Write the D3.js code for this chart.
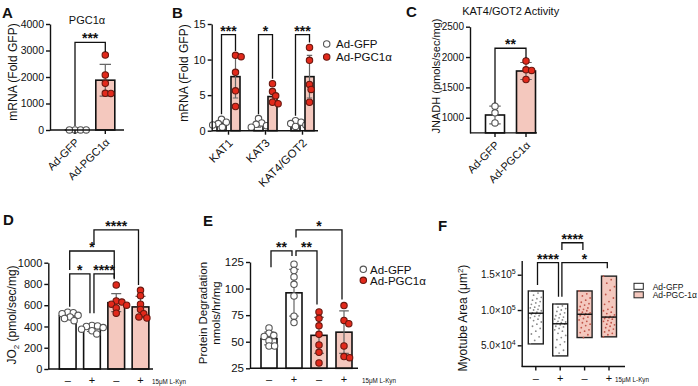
<!DOCTYPE html>
<html>
<head>
<meta charset="utf-8">
<script src="https://cdn.jsdelivr.net/npm/d3@7"></script>
<style>
body { margin: 0; background: #fff; }
svg text { font-family: "Liberation Sans", Arial, sans-serif; fill: #111; }
.axis path, .axis line { stroke: #111; stroke-width: 1.4px; }
</style>
</head>
<body>
<div id="chart"></div>
<script>
// A - PGC1a mRNA
const aGroups = ["Ad-GFP", "Ad-PGC1α"];
const aMean = [1, 1880];
const aSd = [0.4, 600];
const aDots = [[1, 1, 1, 1], [2830, 2075, 1760, 1385, 1380]];
const aTicks = [0, 1000, 2000, 3000, 4000];
const aSig = [[0, 1, 3310, 150, 2940, "***"]];

// B - KAT mRNA
const bGenes = ["KAT1", "KAT3", "KAT4/GOT2"];
const bSeries = ["Ad-GFP", "Ad-PGC1α"];
const bMean = [[1.0, 0.9, 0.9], [7.6, 4.8, 7.6]];
const bSd = [[0.35, 0.4, 0.3], [3.0, 1.1, 3.0]];
const bDots = [
  [[0.5, 0.8, 1.0, 1.2, 1.6], [0.5, 0.7, 0.9, 1.1, 1.7], [0.6, 0.8, 1.0, 1.2, 1.4]],
  [[10.6, 10.4, 8.2, 5.6, 3.4], [6.6, 5.5, 4.9, 4.0, 3.8], [11.7, 9.9, 6.5, 5.8, 4.0]]
];
const bTicks = [0, 5, 10, 15];
const bSig = [[13.5, 2.3, 11.2, "***"], [13.5, 2.3, 7.3, "*"], [13.5, 2.1, 12.4, "***"]];

// C - KAT4/GOT2 activity
const cGroups = ["Ad-GFP", "Ad-PGC1α"];
const cMean = [1045, 1770];
const cSd = [145, 140];
const cDots = [[1190, 1080, 915], [1935, 1790, 1780, 1630]];
const cTicks = [1000, 1500, 2000, 2500];
const cSig = [[0, 1, 2145, 1240, 1985, "**"]];

// D / E / F share the L-Kyn groups
const kynLabels = ["–", "+", "–", "+"];
const kynRed = [false, false, true, true];

// D - JO2
const dMean = [501, 381, 624, 584];
const dSd = [30, 28, 85, 100];
const dDots = [
  [535, 530, 520, 505, 490, 475, 455],
  [410, 405, 400, 390, 375, 360, 330],
  [790, 640, 630, 610, 600, 575, 525],
  [740, 690, 610, 560, 520, 490, 480]
];
const dTicks = [0, 200, 400, 600, 800, 1000];
const dSig = [[0, 1, 894, 585, 525, "*"], [1, 2, 894, 525, 844, "****"],
              [0, 2, 1110, 931, 856, "*"], [1, 3, 1308, 1166, 790, "****"]];

// E - protein degradation
const eMean = [53, 96, 56, 59];
const eSd = [6, 22, 17, 20];
const eDots = [
  [63, 58, 56, 55, 51, 46, 46],
  [123, 117, 111, 104, 93, 74, 68],
  [78, 72, 65, 57, 47, 40, 30],
  [84, 70, 67, 46, 36, 35]
];
const eTicks = [25, 50, 75, 100, 125];
const eSig = [[0, 1, 135.4, 120, 130.7, "**"], [1, 2, 135.4, 130.7, 85, "**"],
              [1, 3, 155.3, 148, 89.7, "*"]];

// F - myotube area (x10^3 um2)
const fArea = [
  [127, 124, 121, 118, 116, 114, 112, 110, 108, 106, 104, 103, 101, 100, 99, 97, 96, 95, 95, 94, 92, 91, 89, 87, 85, 83, 80, 77, 74, 70, 66, 62, 57, 52],
  [108.5, 106, 104, 102, 100, 98, 96, 94, 92, 90, 89, 87, 86, 84, 83, 82, 81, 80, 79, 77, 76, 74, 72, 70, 67, 64, 61, 58, 55, 51, 47, 43, 39, 35],
  [127, 123, 120, 117, 114, 111, 109, 107, 105, 103, 101, 100, 99, 97, 96, 95, 94, 94, 93, 92, 90, 88, 86, 84, 82, 80, 78, 75, 72, 70, 68, 65, 61],
  [148, 143, 138, 133, 128, 122, 117, 112, 108, 104, 101, 99, 97, 95, 93, 91, 90, 90, 89, 88, 87, 85, 84, 82, 80, 79, 77, 75, 73, 71, 69, 67, 65, 62]
];
const fTicks = [50, 100, 150];
const fTickBase = ["5.0×10", "1.0×10", "1.5×10"];
const fTickExp = ["4", "5", "5"];
const fSig = [[0, 1, 167, 135.4, 118.8, "****"], [1, 3, 167, 118.8, 159, "*"],
              [1, 2, 195.3, 185, 185, "****"]];
const fLegend = ["Ad-GFP", "Ad-PGC-1α"];

const width = 698, height = 386;
const pink = "#f4c8be", red = "#e2291b", redStroke = "#6a1810", ink = "#111", errCol = "#666";

const svg = d3.select("#chart").append("svg")
    .attr("width", width)
    .attr("height", height);

function leftAxis(y, x0, ticks, fs) {
    const g = svg.append("g")
        .attr("class", "axis")
        .attr("transform", "translate(" + x0 + ",0)")
        .call(d3.axisLeft(y).tickValues(ticks).tickFormat(d3.format("d"))
              .tickSize(4).tickSizeOuter(0).tickPadding(2));
    g.attr("font-family", null).attr("font-size", fs);
    return g;
}

function baseLine(x0, x1, y0) {
    svg.append("line")
        .attr("x1", x0).attr("x2", x1).attr("y1", y0).attr("y2", y0)
        .attr("stroke", ink).attr("stroke-width", 1.4);
}

function xTicks(xs, y0) {
    xs.forEach(x => svg.append("line")
        .attr("x1", x).attr("x2", x).attr("y1", y0).attr("y2", y0 + 4)
        .attr("stroke", ink).attr("stroke-width", 1.4));
}

// simple beeswarm so dots at same level spread sideways
function swarm(vals, y, r) {
    const placed = [];
    return vals.map(v => ({ v: v, py: y(v) }))
        .sort((a, b) => a.py - b.py)
        .map(p => {
            let off = 0;
            for (let k = 0; k < 60; k++) {
                const c = (k % 2 ? 1 : -1) * Math.ceil(k / 2) * 0.8;
                if (placed.every(q => Math.hypot(q.dx - c, q.py - p.py) >= r)) { off = c; break; }
            }
            p.dx = off;
            placed.push(p);
            return p;
        });
}

// bars + sd + dots
function bars(xs, y, means, sds, dots, reds, bw) {
    const y0 = y.range()[0];
    xs.forEach((cx, i) => {
        svg.append("rect")
            .attr("x", cx - bw / 2).attr("width", bw)
            .attr("y", y(means[i])).attr("height", y0 - y(means[i]))
            .attr("fill", reds[i] ? pink : "#fff")
            .attr("stroke", ink).attr("stroke-width", 1.6);
        const cap = bw * 0.3;
        svg.append("path")
            .attr("d", "M" + (cx - cap) + "," + y(means[i] + sds[i]) + "H" + (cx + cap) +
                  "M" + cx + "," + y(means[i] + sds[i]) + "V" + y(means[i] - sds[i]) +
                  "M" + (cx - cap) + "," + y(means[i] - sds[i]) + "H" + (cx + cap))
            .attr("stroke", errCol).attr("stroke-width", 1.2).attr("fill", "none");
    });
    xs.forEach((cx, i) => {
        svg.selectAll(null)
            .data(swarm(dots[i], y, 5.2))
            .join("circle")
            .attr("cx", d => cx + d.dx)
            .attr("cy", d => d.py)
            .attr("r", 3.2)
            .attr("fill", reds[i] ? red : "#fff")
            .attr("stroke", reds[i] ? redStroke : "#555")
            .attr("stroke-width", 1.1);
    });
}

function bracket(x1, x2, yl, y1e, y2e, label) {
    svg.append("path")
        .attr("d", "M" + x1 + "," + y1e + "V" + yl + "H" + x2 + "V" + y2e)
        .attr("fill", "none").attr("stroke", ink).attr("stroke-width", 1.3);
    svg.append("text")
        .attr("x", (x1 + x2) / 2).attr("y", yl + 1)
        .attr("text-anchor", "middle")
        .attr("font-size", 14).attr("font-weight", "bold")
        .text(label);
}

function sigs(list, xs, y, off) {
    list.forEach(s => bracket(xs[s[0]] + off, xs[s[1]] - off, y(s[2]), y(s[3]), y(s[4]), s[5]));
}

function rotLabels(xs, labels, y0, fs) {
    labels.forEach((t, i) => svg.append("text")
        .attr("transform", "translate(" + (xs[i] + 5) + "," + (y0 + 13) + ") rotate(-45)")
        .attr("text-anchor", "end").attr("font-size", fs).text(t));
}

function yLabel(x, y, txt, fs) {
    return svg.append("text")
        .attr("transform", "translate(" + x + "," + y + ") rotate(-90)")
        .attr("text-anchor", "middle").attr("font-size", fs).text(txt);
}

function letter(x, y, t) {
    svg.append("text").attr("x", x).attr("y", y)
        .attr("font-size", 15).attr("font-weight", "bold").text(t);
}

function kynAxis(xs, y0, fs, kx) {
    xs.forEach((x, i) => svg.append("text")
        .attr("x", x).attr("y", y0 + 15).attr("text-anchor", "middle")
        .attr("font-size", fs).text(kynLabels[i]));
    svg.append("text").attr("x", kx).attr("y", y0 + 15)
        .attr("font-size", 7.5).attr("textLength", 34).attr("lengthAdjust", "spacingAndGlyphs")
        .text("15μM L-Kyn");
}

// ---------- A ----------
const yA = d3.scaleLinear().domain([0, 4000]).range([130, 24]);
const xA = d3.scalePoint().domain(aGroups).range([75, 105.3]);
const aX = aGroups.map(g => xA(g));
bars(aX, yA, aMean, aSd, aDots, [false, true], 19);
leftAxis(yA, 50, aTicks, 10.5);
baseLine(50, 124, 130);
xTicks(aX, 130);
rotLabels(aX, aGroups, 130, 11);
sigs(aSig, aX, yA, 0);
yLabel(16.5, 72, "mRNA (Fold GFP)", 12);
svg.append("text").attr("x", 87).attr("y", 23.5).attr("text-anchor", "middle").attr("font-size", 11).text("PGC1α");
letter(2, 18, "A");

// ---------- B ----------
const yB = d3.scaleLinear().domain([0, 15]).range([130.7, 24]);
const xB = d3.scaleBand().domain(bGenes).range([210, 321]);
const xBs = d3.scalePoint().domain(bSeries).range([-7, 7]);
bSeries.forEach((s, si) => {
    const xs = bGenes.map(g => xB(g) + xB.bandwidth() / 2 + xBs(s));
    bars(xs, yB, bMean[si], bSd[si], bDots[si], bGenes.map(() => si === 1), 9);
});
leftAxis(yB, 211.7, bTicks, 11);
baseLine(211.7, 318, 130.7);
const bX = bGenes.map(g => xB(g) + xB.bandwidth() / 2);
xTicks(bX, 130.7);
rotLabels(bX, bGenes, 130.7, 11.5);
bSig.forEach((s, i) => bracket(bX[i] + xBs(bSeries[0]), bX[i] + xBs(bSeries[1]),
    yB(s[0]), yB(s[1]), yB(s[2]), s[3]));
yLabel(188, 73, "mRNA (Fold GFP)", 12);
bSeries.forEach((s, i) => {
    svg.append("circle").attr("cx", 326.7).attr("cy", 44 + i * 13).attr("r", 3.2)
        .attr("fill", i ? red : "#fff").attr("stroke", i ? redStroke : "#555").attr("stroke-width", 1.1);
    svg.append("text").attr("x", 336).attr("y", 48 + i * 13).attr("font-size", 11.5).text(s);
});
letter(172, 18, "B");

// ---------- C ----------
const yC = d3.scaleLinear().domain([750, 2500]).range([132.9, 26.7]);
const xC = d3.scalePoint().domain(cGroups).range([495, 526]);
const cX = cGroups.map(g => xC(g));
bars(cX, yC, cMean, cSd, cDots, [false, true], 19);
leftAxis(yC, 470, cTicks, 10);
baseLine(470, 537, 132.9);
xTicks(cX, 132.9);
rotLabels(cX, cGroups, 132.9, 11);
sigs(cSig, cX, yC, 0);
yLabel(440, 76, "JNADH (pmols/sec/mg)", 11);
svg.append("text").attr("x", 510.7).attr("y", 15).attr("text-anchor", "middle").attr("font-size", 11).text("KAT4/GOT2 Activity");
letter(406, 17, "C");

// ---------- D ----------
const yD = d3.scaleLinear().domain([0, 1000]).range([369, 262.7]);
const xD = d3.scalePoint().domain(d3.range(4)).range([67.7, 140.5]);
const dX = d3.range(4).map(i => xD(i));
bars(dX, yD, dMean, dSd, dDots, kynRed, 16.7);
leftAxis(yD, 48.3, dTicks, 11);
baseLine(48.3, 153, 369);
kynAxis(dX, 369, 11, 152);
sigs(dSig, dX, yD, 2);
const dl = yLabel(16, 315, "JO", 12);
dl.append("tspan").attr("font-size", 8).attr("dy", 3).text("2");
dl.append("tspan").attr("dy", -3).text(" (pmol/sec/mg)");
letter(3, 224.5, "D");

// ---------- E ----------
const yE = d3.scaleLinear().domain([25, 125]).range([368.3, 262]);
const xE = d3.scalePoint().domain(d3.range(4)).range([269, 344]);
const eX = d3.range(4).map(i => xE(i));
bars(eX, yE, eMean, eSd, eDots, kynRed, 16);
leftAxis(yE, 250, eTicks, 11.5);
baseLine(250, 358, 368.3);
kynAxis(eX, 368.3, 11, 362);
sigs(eSig, eX, yE, 2);
yLabel(207, 313, "Protein Degradation", 11.5);
yLabel(220, 313, "nmols/hr/mg", 11.5);
bSeries.forEach((s, i) => {
    svg.append("circle").attr("cx", 363.3).attr("cy", 269.3 + i * 11).attr("r", 3.2)
        .attr("fill", i ? red : "#fff").attr("stroke", i ? redStroke : "#555").attr("stroke-width", 1.1);
    svg.append("text").attr("x", 370).attr("y", 273.5 + i * 11).attr("font-size", 11.5).text(s);
});
letter(203, 226, "E");

// ---------- F ----------
const yF = d3.scaleLinear().domain([20, 170]).range([366.5, 260.6]);
const xF = d3.scalePoint().domain(d3.range(4)).range([535.8, 609]);
const fX = d3.range(4).map(i => xF(i));
fArea.forEach((vals, i) => {
    const lo = d3.min(vals), hi = d3.max(vals), med = d3.median(vals);
    const cx = fX[i];
    svg.append("rect")
        .attr("x", cx - 7.5).attr("width", 15)
        .attr("y", yF(hi)).attr("height", yF(lo) - yF(hi))
        .attr("fill", kynRed[i] ? pink : "#fff")
        .attr("stroke", "#222").attr("stroke-width", 1.4);
    svg.selectAll(null).data(vals).join("circle")
        .attr("cx", (d, j) => cx + (((j * 7) % 11) - 5) * 1.1)
        .attr("cy", d => yF(d))
        .attr("r", 0.9)
        .attr("fill", kynRed[i] ? "#c0564a" : "#8a8a8a");
    svg.append("line")
        .attr("x1", cx - 7.5).attr("x2", cx + 7.5)
        .attr("y1", yF(med)).attr("y2", yF(med))
        .attr("stroke", ink).attr("stroke-width", 1.4);
});
const fAx = leftAxis(yF, 521.7, fTicks, 10);
fAx.selectAll(".tick text").each(function (d, i) {
    const t = d3.select(this);
    t.text(null);
    t.append("tspan").text(fTickBase[i]);
    t.append("tspan").attr("dy", -4).attr("font-size", 7).text(fTickExp[i]);
});
baseLine(521.7, 625, 366.5);
xTicks(fX, 366.5);
kynAxis(fX, 366.5, 11, 615);
sigs(fSig, fX, yF, 1.7);
const fl = yLabel(467, 318, "Myotube Area (μm", 12);
fl.append("tspan").attr("font-size", 8).attr("dy", -4).text("2");
fl.append("tspan").attr("dy", 4).text(")");
fLegend.forEach((s, i) => {
    svg.append("rect").attr("x", 634).attr("y", 283.3 + i * 8.5).attr("width", 9.3).attr("height", 6)
        .attr("fill", i ? pink : "#fff").attr("stroke", "#222").attr("stroke-width", 1);
    svg.append("text").attr("x", 652.7).attr("y", 289.5 + i * 8.7).attr("font-size", 8.5).text(s);
});
letter(438, 231, "F");
</script>
</body>
</html>
